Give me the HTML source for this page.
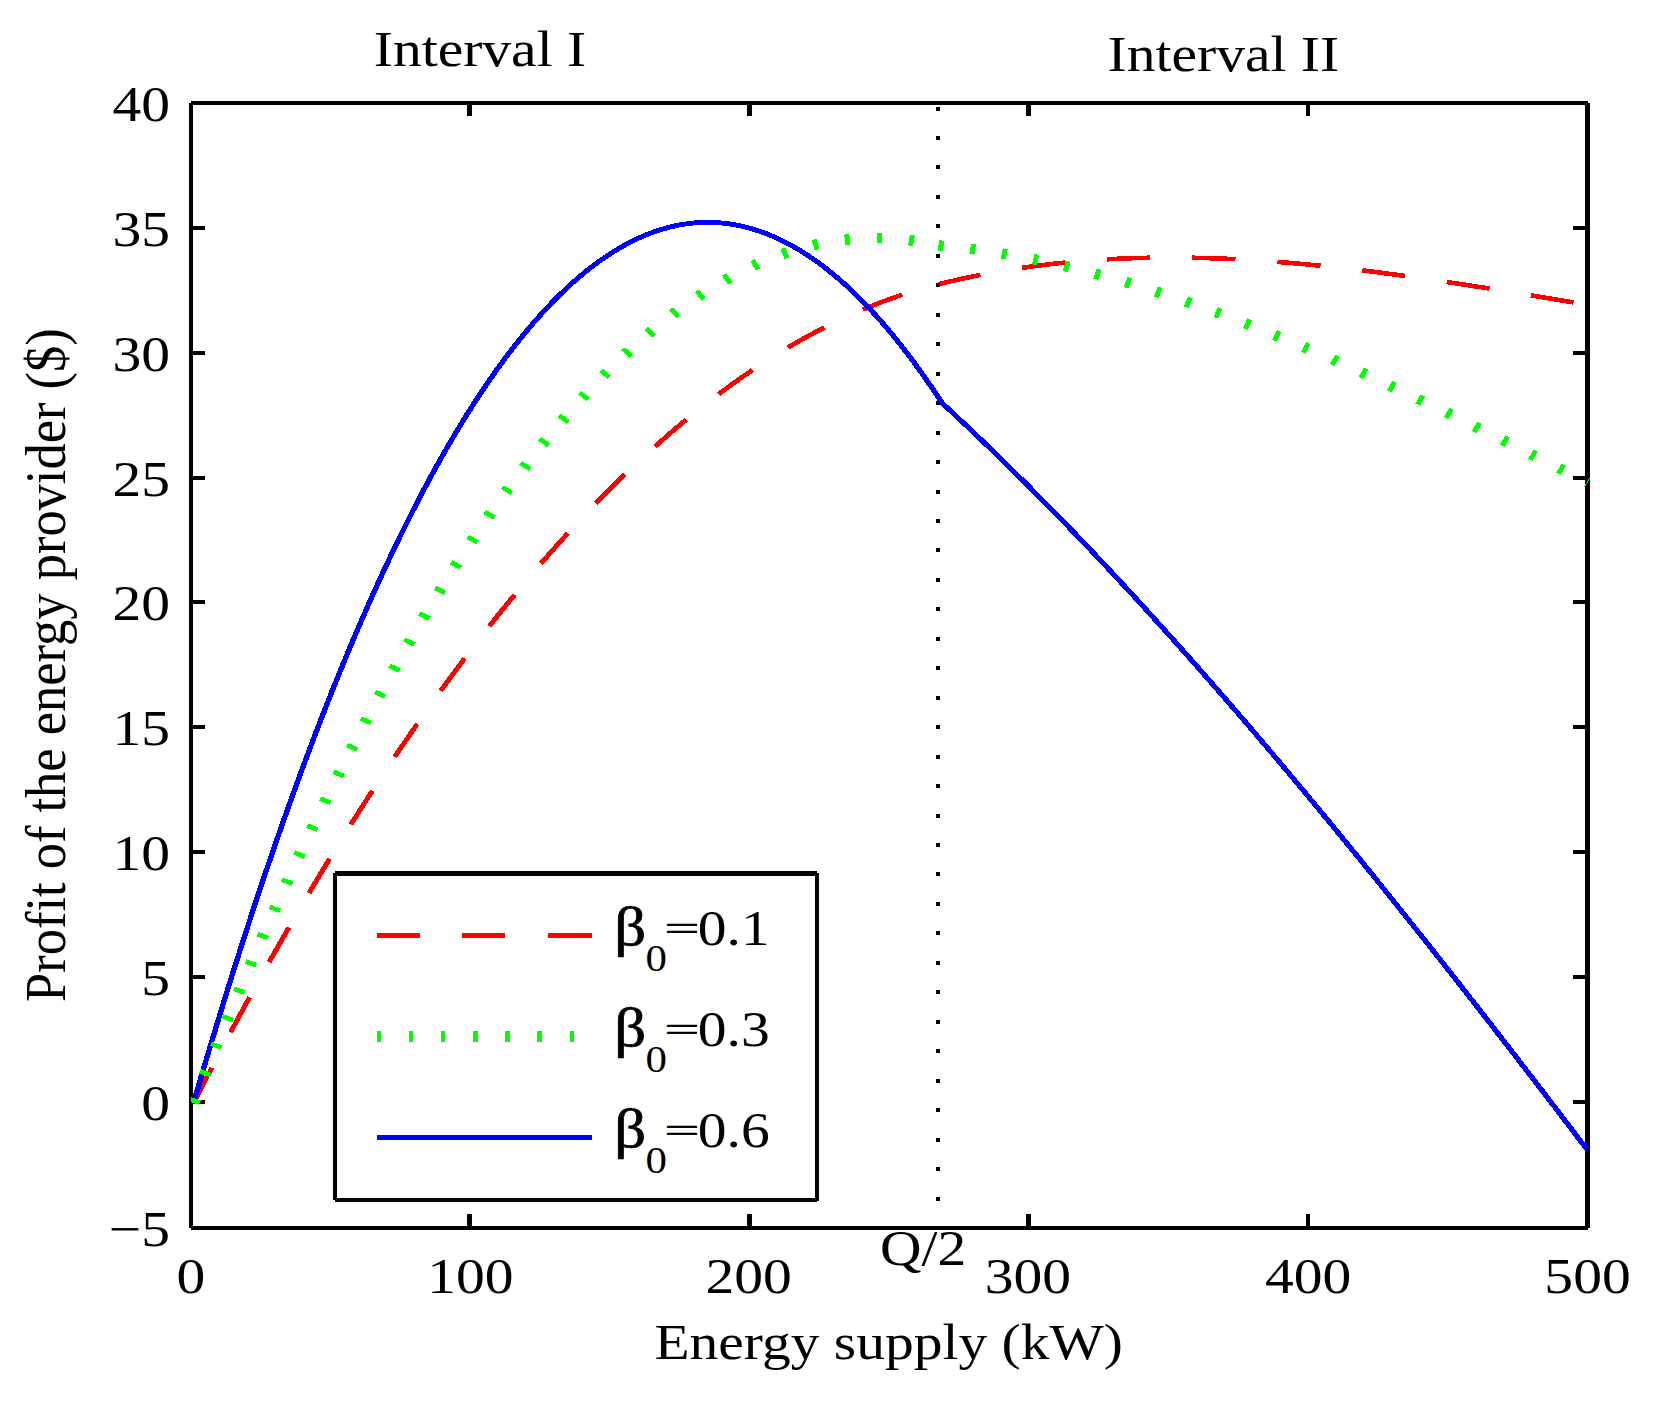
<!DOCTYPE html>
<html lang="en">
<head>
<meta charset="utf-8">
<title>Profit of the energy provider vs energy supply</title>
<style>
html,body{margin:0;padding:0;background:#fff;}
body{width:1676px;height:1406px;overflow:hidden;}
svg{display:block;}
text{font-family:"Liberation Serif", "DejaVu Serif", serif;fill:#000;}
</style>
</head>
<body>
<svg width="1676" height="1406" viewBox="0 0 1676 1406">
<rect x="0" y="0" width="1676" height="1406" fill="#ffffff"/>
<g id="axes">
<rect x="189.00" y="103.00" width="4.00" height="1125.00" fill="#000" shape-rendering="crispEdges"/>
<rect x="1585.00" y="103.00" width="5.00" height="1125.00" fill="#000" shape-rendering="crispEdges"/>
<rect x="191.00" y="101.00" width="1397.00" height="4.00" fill="#000" shape-rendering="crispEdges"/>
<rect x="191.00" y="1226.00" width="1397.00" height="4.00" fill="#000" shape-rendering="crispEdges"/>
<rect x="467.00" y="103.00" width="5.00" height="13.00" fill="#000" shape-rendering="crispEdges"/>
<rect x="467.00" y="1214.00" width="5.00" height="14.00" fill="#000" shape-rendering="crispEdges"/>
<rect x="747.00" y="103.00" width="5.00" height="13.00" fill="#000" shape-rendering="crispEdges"/>
<rect x="747.00" y="1214.00" width="5.00" height="14.00" fill="#000" shape-rendering="crispEdges"/>
<rect x="1026.00" y="103.00" width="5.00" height="13.00" fill="#000" shape-rendering="crispEdges"/>
<rect x="1026.00" y="1214.00" width="5.00" height="14.00" fill="#000" shape-rendering="crispEdges"/>
<rect x="1306.00" y="103.00" width="4.00" height="13.00" fill="#000" shape-rendering="crispEdges"/>
<rect x="1306.00" y="1214.00" width="4.00" height="14.00" fill="#000" shape-rendering="crispEdges"/>
<rect x="191.00" y="1100.00" width="14.00" height="4.00" fill="#000" shape-rendering="crispEdges"/>
<rect x="1573.00" y="1100.00" width="14.00" height="4.00" fill="#000" shape-rendering="crispEdges"/>
<rect x="191.00" y="975.00" width="14.00" height="4.00" fill="#000" shape-rendering="crispEdges"/>
<rect x="1573.00" y="975.00" width="14.00" height="4.00" fill="#000" shape-rendering="crispEdges"/>
<rect x="191.00" y="850.00" width="14.00" height="4.00" fill="#000" shape-rendering="crispEdges"/>
<rect x="1573.00" y="850.00" width="14.00" height="4.00" fill="#000" shape-rendering="crispEdges"/>
<rect x="191.00" y="725.00" width="14.00" height="4.00" fill="#000" shape-rendering="crispEdges"/>
<rect x="1573.00" y="725.00" width="14.00" height="4.00" fill="#000" shape-rendering="crispEdges"/>
<rect x="191.00" y="600.00" width="14.00" height="4.00" fill="#000" shape-rendering="crispEdges"/>
<rect x="1573.00" y="600.00" width="14.00" height="4.00" fill="#000" shape-rendering="crispEdges"/>
<rect x="191.00" y="476.00" width="14.00" height="4.00" fill="#000" shape-rendering="crispEdges"/>
<rect x="1573.00" y="476.00" width="14.00" height="4.00" fill="#000" shape-rendering="crispEdges"/>
<rect x="191.00" y="351.00" width="14.00" height="4.00" fill="#000" shape-rendering="crispEdges"/>
<rect x="1573.00" y="351.00" width="14.00" height="4.00" fill="#000" shape-rendering="crispEdges"/>
<rect x="191.00" y="226.00" width="14.00" height="4.00" fill="#000" shape-rendering="crispEdges"/>
<rect x="1573.00" y="226.00" width="14.00" height="4.00" fill="#000" shape-rendering="crispEdges"/>
</g>
<defs><clipPath id="plotclip"><rect x="190.8" y="101" width="1399.2" height="1129"/></clipPath></defs>
<g id="plot-area" clip-path="url(#plotclip)">
<g id="curve-red" transform="scale(1.095,1)" fill="none" stroke-linejoin="round" shape-rendering="crispEdges">
<path d="M176.72 1103.00 L181.62 1092.59 L186.51 1082.24 L191.41 1071.96 L196.30 1061.74 L201.20 1051.59 L206.09 1041.50 L210.99 1031.48 L215.88 1021.52 L220.77 1011.64 L225.67 1001.81 L230.56 992.05 L235.46 982.36 L240.35 972.73 L245.25 963.17 L250.14 953.68 L255.03 944.25 L259.93 934.88 L264.82 925.58 L269.72 916.35 L274.61 907.18 L279.51 898.08 L284.40 889.04 L289.29 880.07 L294.19 871.16 L299.08 862.32 L303.98 853.55 L308.87 844.84 L313.77 836.19 L318.66 827.62 L323.56 819.10 L328.45 810.66 L333.34 802.27 L338.24 793.96 L343.13 785.71 L348.03 777.52 L352.92 769.40 L357.82 761.35 L362.71 753.36 L367.60 745.44 L372.50 737.58 L377.39 729.79 L382.29 722.06 L387.18 714.40 L392.08 706.81 L396.97 699.28 L401.87 691.82 L406.76 684.42 L411.65 677.09 L416.55 669.82 L421.44 662.62 L426.34 655.48 L431.23 648.41 L436.13 641.41 L441.02 634.47 L445.91 627.59 L450.81 620.78 L455.70 614.04 L460.60 607.37 L465.49 600.75 L470.39 594.21 L475.28 587.73 L480.17 581.31 L485.07 574.96 L489.96 568.68 L494.86 562.46 L499.75 556.31 L504.65 550.22 L509.54 544.20 L514.44 538.25 L519.33 532.36 L524.22 526.53 L529.12 520.77 L534.01 515.08 L538.91 509.45 L543.80 503.89 L548.70 498.39 L553.59 492.96 L558.48 487.59 L563.38 482.29 L568.27 477.06 L573.17 471.89 L578.06 466.79 L582.96 461.75 L587.85 456.78 L592.74 451.87 L597.64 447.03 L602.53 442.25 L607.43 437.54 L612.32 432.90 L617.22 428.32 L622.11 423.80 L627.01 419.36 L631.90 414.97 L636.79 410.66 L641.69 406.41 L646.58 402.22 L651.48 398.10 L656.37 394.04 L661.27 390.06 L666.16 386.13 L671.05 382.27 L675.95 378.48 L680.84 374.76 L685.74 371.09 L690.63 367.50 L695.53 363.97 L700.42 360.50 L705.31 357.10 L710.21 353.77 L715.10 350.50 L720.00 347.30 L724.89 344.16 L729.79 341.09 L734.68 338.09 L739.58 335.15 L744.47 332.27 L749.36 329.46 L754.26 326.72 L759.15 324.04 L764.05 321.43 L768.94 318.88 L773.84 316.40 L778.73 313.99 L783.62 311.64 L788.52 309.35 L793.41 307.13 L798.31 304.98 L803.20 302.89 L808.10 300.87 L812.99 298.91 L817.88 297.02 L822.78 295.20 L827.67 293.44 L832.57 291.74 L837.46 290.11 L842.36 288.55 L847.25 287.05 L852.15 285.62 L857.04 284.25" stroke="#ff0000" stroke-width="4.6" stroke-dasharray="39 39.4"/>
<path d="M857.04 284.25 L861.30 283.11 L865.57 281.99 L869.83 280.90 L874.10 279.83 L878.36 278.80 L882.63 277.79 L886.89 276.81 L891.15 275.86 L895.42 274.94 L899.68 274.04 L903.95 273.16 L908.21 272.32 L912.48 271.50 L916.74 270.70 L921.00 269.94 L925.27 269.19 L929.53 268.48 L933.80 267.78 L938.06 267.11 L942.32 266.47 L946.59 265.85 L950.85 265.26 L955.12 264.69 L959.38 264.14 L963.65 263.62 L967.91 263.12 L972.17 262.64 L976.44 262.19 L980.70 261.75 L984.97 261.35 L989.23 260.96 L993.50 260.59 L997.76 260.25 L1002.02 259.93 L1006.29 259.63 L1010.55 259.35 L1014.82 259.10 L1019.08 258.86 L1023.35 258.64 L1027.61 258.45 L1031.87 258.27 L1036.14 258.12 L1040.40 257.98 L1044.67 257.86 L1048.93 257.77 L1053.20 257.69 L1057.46 257.63 L1061.72 257.59 L1065.99 257.57 L1070.25 257.57 L1074.52 257.58 L1078.78 257.61 L1083.05 257.66 L1087.31 257.73 L1091.57 257.81 L1095.84 257.92 L1100.10 258.03 L1104.37 258.17 L1108.63 258.32 L1112.90 258.49 L1117.16 258.67 L1121.42 258.87 L1125.69 259.08 L1129.95 259.31 L1134.22 259.56 L1138.48 259.82 L1142.75 260.09 L1147.01 260.38 L1151.27 260.69 L1155.54 261.00 L1159.80 261.33 L1164.07 261.68 L1168.33 262.04 L1172.59 262.41 L1176.86 262.79 L1181.12 263.19 L1185.39 263.60 L1189.65 264.02 L1193.92 264.46 L1198.18 264.90 L1202.44 265.36 L1206.71 265.83 L1210.97 266.31 L1215.24 266.80 L1219.50 267.30 L1223.77 267.82 L1228.03 268.34 L1232.29 268.87 L1236.56 269.42 L1240.82 269.97 L1245.09 270.53 L1249.35 271.10 L1253.62 271.69 L1257.88 272.28 L1262.14 272.88 L1266.41 273.48 L1270.67 274.10 L1274.94 274.72 L1279.20 275.36 L1283.47 276.00 L1287.73 276.64 L1291.99 277.30 L1296.26 277.96 L1300.52 278.63 L1304.79 279.30 L1309.05 279.98 L1313.32 280.67 L1317.58 281.37 L1321.84 282.06 L1326.11 282.77 L1330.37 283.48 L1334.64 284.20 L1338.90 284.92 L1343.17 285.64 L1347.43 286.37 L1351.69 287.10 L1355.96 287.84 L1360.22 288.58 L1364.49 289.33 L1368.75 290.08 L1373.02 290.83 L1377.28 291.59 L1381.54 292.35 L1385.81 293.11 L1390.07 293.87 L1394.34 294.63 L1398.60 295.40 L1402.86 296.17 L1407.13 296.94 L1411.39 297.71 L1415.66 298.49 L1419.92 299.26 L1424.19 300.04 L1428.45 300.81 L1432.71 301.59 L1436.98 302.36 L1441.24 303.14 L1445.51 303.91 L1449.77 304.69" stroke="#ff0000" stroke-width="4.6" stroke-dasharray="39.6 38.4"/>
</g>
<g id="curve-blue" transform="scale(1.095,1)" fill="none" stroke-linejoin="round" shape-rendering="crispEdges">
<path d="M176.72 1103.00 L181.64 1084.57 L186.56 1066.34 L191.48 1048.31 L196.40 1030.47 L201.31 1012.83 L206.23 995.38 L211.15 978.13 L216.07 961.08 L220.99 944.22 L225.90 927.56 L230.82 911.10 L235.74 894.83 L240.66 878.76 L245.57 862.88 L250.49 847.20 L255.41 831.71 L260.33 816.42 L265.25 801.33 L270.16 786.43 L275.08 771.72 L280.00 757.22 L284.92 742.90 L289.84 728.79 L294.75 714.86 L299.67 701.14 L304.59 687.60 L309.51 674.27 L314.43 661.13 L319.34 648.18 L324.26 635.43 L329.18 622.87 L334.10 610.51 L339.01 598.35 L343.93 586.37 L348.85 574.60 L353.77 563.01 L358.69 551.63 L363.60 540.43 L368.52 529.43 L373.44 518.63 L378.36 508.02 L383.28 497.60 L388.19 487.38 L393.11 477.36 L398.03 467.52 L402.95 457.89 L407.86 448.44 L412.78 439.19 L417.70 430.13 L422.62 421.27 L427.54 412.60 L432.45 404.13 L437.37 395.85 L442.29 387.76 L447.21 379.87 L452.13 372.17 L457.04 364.66 L461.96 357.35 L466.88 350.23 L471.80 343.30 L476.71 336.57 L481.63 330.03 L486.55 323.69 L491.47 317.53 L496.39 311.57 L501.30 305.81 L506.22 300.24 L511.14 294.86 L516.06 289.67 L520.98 284.67 L525.89 279.87 L530.81 275.26 L535.73 270.85 L540.65 266.63 L545.56 262.60 L550.48 258.76 L555.40 255.11 L560.32 251.66 L565.24 248.40 L570.15 245.33 L575.07 242.46 L579.99 239.77 L584.91 237.28 L589.83 234.98 L594.74 232.88 L599.66 230.96 L604.58 229.24 L609.50 227.71 L614.42 226.37 L619.33 225.22 L624.25 224.27 L629.17 223.50 L634.09 222.93 L639.00 222.55 L643.92 222.36 L648.84 222.37 L653.76 222.56 L658.68 222.95 L663.59 223.53 L668.51 224.30 L673.43 225.26 L678.35 226.41 L683.27 227.75 L688.18 229.29 L693.10 231.01 L698.02 232.93 L702.94 235.03 L707.85 237.33 L712.77 239.82 L717.69 242.50 L722.61 245.37 L727.53 248.43 L732.44 251.69 L737.36 255.13 L742.28 258.76 L747.20 262.59 L752.12 266.60 L757.03 270.80 L761.95 275.20 L766.87 279.79 L771.79 284.56 L776.70 289.53 L781.62 294.68 L786.54 300.03 L791.46 305.57 L796.38 311.29 L801.29 317.21 L806.21 323.31 L811.13 329.61 L816.05 336.10 L820.97 342.77 L825.88 349.64 L830.80 356.69 L835.72 363.94 L840.64 371.37 L845.55 378.99 L850.47 386.81 L855.39 394.81 L860.31 403.00 L864.55 407.29 L868.79 411.59 L873.03 415.92 L877.27 420.26 L881.51 424.63 L885.75 429.02 L889.99 433.43 L894.23 437.85 L898.48 442.30 L902.72 446.77 L906.96 451.26 L911.20 455.77 L915.44 460.30 L919.68 464.85 L923.92 469.42 L928.16 474.00 L932.40 478.61 L936.64 483.24 L940.88 487.88 L945.12 492.55 L949.36 497.23 L953.60 501.93 L957.85 506.65 L962.09 511.39 L966.33 516.15 L970.57 520.93 L974.81 525.72 L979.05 530.53 L983.29 535.36 L987.53 540.21 L991.77 545.08 L996.01 549.96 L1000.25 554.86 L1004.49 559.78 L1008.73 564.71 L1012.98 569.67 L1017.22 574.64 L1021.46 579.62 L1025.70 584.63 L1029.94 589.65 L1034.18 594.68 L1038.42 599.74 L1042.66 604.80 L1046.90 609.89 L1051.14 614.99 L1055.38 620.11 L1059.62 625.24 L1063.86 630.39 L1068.10 635.56 L1072.35 640.74 L1076.59 645.93 L1080.83 651.15 L1085.07 656.37 L1089.31 661.61 L1093.55 666.87 L1097.79 672.14 L1102.03 677.43 L1106.27 682.73 L1110.51 688.04 L1114.75 693.37 L1118.99 698.72 L1123.23 704.08 L1127.48 709.45 L1131.72 714.83 L1135.96 720.23 L1140.20 725.65 L1144.44 731.07 L1148.68 736.51 L1152.92 741.97 L1157.16 747.44 L1161.40 752.92 L1165.64 758.41 L1169.88 763.92 L1174.12 769.43 L1178.36 774.97 L1182.60 780.51 L1186.85 786.07 L1191.09 791.64 L1195.33 797.22 L1199.57 802.81 L1203.81 808.42 L1208.05 814.03 L1212.29 819.66 L1216.53 825.30 L1220.77 830.95 L1225.01 836.62 L1229.25 842.29 L1233.49 847.98 L1237.73 853.67 L1241.98 859.38 L1246.22 865.10 L1250.46 870.83 L1254.70 876.57 L1258.94 882.32 L1263.18 888.08 L1267.42 893.85 L1271.66 899.63 L1275.90 905.42 L1280.14 911.22 L1284.38 917.03 L1288.62 922.85 L1292.86 928.68 L1297.10 934.52 L1301.35 940.37 L1305.59 946.23 L1309.83 952.10 L1314.07 957.97 L1318.31 963.86 L1322.55 969.75 L1326.79 975.65 L1331.03 981.56 L1335.27 987.48 L1339.51 993.41 L1343.75 999.34 L1347.99 1005.29 L1352.23 1011.24 L1356.48 1017.20 L1360.72 1023.16 L1364.96 1029.14 L1369.20 1035.12 L1373.44 1041.11 L1377.68 1047.11 L1381.92 1053.11 L1386.16 1059.12 L1390.40 1065.14 L1394.64 1071.16 L1398.88 1077.19 L1403.12 1083.23 L1407.36 1089.28 L1411.61 1095.33 L1415.85 1101.38 L1420.09 1107.45 L1424.33 1113.51 L1428.57 1119.59 L1432.81 1125.67 L1437.05 1131.76 L1441.29 1137.85 L1445.53 1143.94 L1449.77 1150.05" stroke="#0000ff" stroke-width="4.9"/>
</g>
<g id="curve-green" transform="scale(1.095,1)" fill="none" stroke-linejoin="round" shape-rendering="crispEdges">
<path d="M176.72 1103.00 L181.62 1089.45 L186.51 1076.01 L191.41 1062.68 L196.30 1049.45 L201.20 1036.33 L206.09 1023.32 L210.99 1010.41 L215.88 997.61 L220.77 984.92 L225.67 972.34 L230.56 959.86 L235.46 947.49 L240.35 935.22 L245.25 923.07 L250.14 911.02 L255.03 899.07 L259.93 887.24 L264.82 875.51 L269.72 863.88 L274.61 852.37 L279.51 840.96 L284.40 829.66 L289.29 818.46 L294.19 807.37 L299.08 796.39 L303.98 785.52 L308.87 774.75 L313.77 764.09 L318.66 753.54 L323.56 743.09 L328.45 732.75 L333.34 722.52 L338.24 712.39 L343.13 702.38 L348.03 692.46 L352.92 682.66 L357.82 672.96 L362.71 663.37 L367.60 653.89 L372.50 644.51 L377.39 635.24 L382.29 626.08 L387.18 617.02 L392.08 608.07 L396.97 599.23 L401.87 590.49 L406.76 581.86 L411.65 573.34 L416.55 564.93 L421.44 556.62 L426.34 548.42 L431.23 540.33 L436.13 532.34 L441.02 524.46 L445.91 516.69 L450.81 509.02 L455.70 501.46 L460.60 494.01 L465.49 486.66 L470.39 479.42 L475.28 472.29 L480.17 465.27 L485.07 458.35 L489.96 451.54 L494.86 444.84 L499.75 438.24 L504.65 431.75 L509.54 425.37 L514.44 419.09 L519.33 412.92 L524.22 406.86 L529.12 400.90 L534.01 395.06 L538.91 389.31 L543.80 383.68 L548.70 378.15 L553.59 372.73 L558.48 367.42 L563.38 362.21 L568.27 357.11 L573.17 352.12 L578.06 347.23 L582.96 342.45 L587.85 337.78 L592.74 333.22 L597.64 328.76 L602.53 324.41 L607.43 320.16 L612.32 316.03 L617.22 312.00 L622.11 308.07 L627.01 304.26 L631.90 300.55 L636.79 296.94 L641.69 293.45 L646.58 290.06 L651.48 286.78 L656.37 283.60 L661.27 280.53 L666.16 277.57 L671.05 274.72 L675.95 271.97 L680.84 269.33 L685.74 266.80 L690.63 264.37 L695.53 262.05 L700.42 259.84 L705.31 257.73 L710.21 255.73 L715.10 253.84 L720.00 252.06 L724.89 250.38 L729.79 248.81 L734.68 247.34 L739.58 245.99 L744.47 244.74 L749.36 243.59 L754.26 242.56 L759.15 241.63 L764.05 240.81 L768.94 240.09 L773.84 239.48 L778.73 238.98 L783.62 238.59 L788.52 238.30 L793.41 238.12 L798.31 238.04 L803.20 238.08 L808.10 238.22 L812.99 238.46 L817.88 238.82 L822.78 239.28 L827.67 239.85 L832.57 240.52 L837.46 241.30 L842.36 242.19 L847.25 243.19 L852.15 244.29 L857.04 245.50" stroke="#00ff00" stroke-width="10.5" stroke-dasharray="4.6 24.78"/>
<path d="M857.04 245.50 L861.30 245.91 L865.57 246.36 L869.83 246.83 L874.10 247.33 L878.36 247.86 L882.63 248.41 L886.89 248.99 L891.15 249.60 L895.42 250.24 L899.68 250.90 L903.95 251.59 L908.21 252.30 L912.48 253.04 L916.74 253.80 L921.00 254.60 L925.27 255.41 L929.53 256.25 L933.80 257.12 L938.06 258.01 L942.32 258.92 L946.59 259.86 L950.85 260.82 L955.12 261.81 L959.38 262.82 L963.65 263.85 L967.91 264.91 L972.17 265.99 L976.44 267.09 L980.70 268.21 L984.97 269.36 L989.23 270.53 L993.50 271.72 L997.76 272.93 L1002.02 274.17 L1006.29 275.42 L1010.55 276.70 L1014.82 278.00 L1019.08 279.31 L1023.35 280.65 L1027.61 282.01 L1031.87 283.39 L1036.14 284.79 L1040.40 286.21 L1044.67 287.64 L1048.93 289.10 L1053.20 290.58 L1057.46 292.07 L1061.72 293.59 L1065.99 295.12 L1070.25 296.67 L1074.52 298.23 L1078.78 299.82 L1083.05 301.42 L1087.31 303.04 L1091.57 304.68 L1095.84 306.34 L1100.10 308.01 L1104.37 309.70 L1108.63 311.40 L1112.90 313.12 L1117.16 314.86 L1121.42 316.61 L1125.69 318.38 L1129.95 320.16 L1134.22 321.96 L1138.48 323.77 L1142.75 325.60 L1147.01 327.44 L1151.27 329.30 L1155.54 331.17 L1159.80 333.06 L1164.07 334.96 L1168.33 336.87 L1172.59 338.79 L1176.86 340.73 L1181.12 342.68 L1185.39 344.65 L1189.65 346.62 L1193.92 348.61 L1198.18 350.61 L1202.44 352.62 L1206.71 354.65 L1210.97 356.68 L1215.24 358.73 L1219.50 360.79 L1223.77 362.86 L1228.03 364.94 L1232.29 367.03 L1236.56 369.13 L1240.82 371.23 L1245.09 373.35 L1249.35 375.48 L1253.62 377.62 L1257.88 379.77 L1262.14 381.93 L1266.41 384.09 L1270.67 386.27 L1274.94 388.45 L1279.20 390.64 L1283.47 392.84 L1287.73 395.04 L1291.99 397.26 L1296.26 399.48 L1300.52 401.71 L1304.79 403.94 L1309.05 406.18 L1313.32 408.43 L1317.58 410.68 L1321.84 412.94 L1326.11 415.21 L1330.37 417.48 L1334.64 419.76 L1338.90 422.04 L1343.17 424.33 L1347.43 426.62 L1351.69 428.92 L1355.96 431.22 L1360.22 433.53 L1364.49 435.84 L1368.75 438.15 L1373.02 440.47 L1377.28 442.79 L1381.54 445.12 L1385.81 447.44 L1390.07 449.77 L1394.34 452.11 L1398.60 454.44 L1402.86 456.78 L1407.13 459.12 L1411.39 461.46 L1415.66 463.80 L1419.92 466.14 L1424.19 468.49 L1428.45 470.84 L1432.71 473.18 L1436.98 475.53 L1441.24 477.88 L1445.51 480.22 L1449.77 482.57" stroke="#00ff00" stroke-width="10.5" stroke-dasharray="4.6 24.59"/>
</g>
</g>
<line x1="938" y1="1230" x2="938" y2="103" stroke="#000" stroke-width="4" stroke-dasharray="4 25.46" shape-rendering="crispEdges"/>
<g id="legend">
<rect x="335.00" y="873.00" width="482.00" height="327.00" fill="#fff" shape-rendering="crispEdges"/>
<rect x="335.00" y="871.00" width="482.00" height="5.00" fill="#000" shape-rendering="crispEdges"/>
<rect x="335.00" y="1198.00" width="482.00" height="4.00" fill="#000" shape-rendering="crispEdges"/>
<rect x="333.00" y="873.00" width="4.00" height="327.00" fill="#000" shape-rendering="crispEdges"/>
<rect x="815.00" y="873.00" width="4.00" height="328.00" fill="#000" shape-rendering="crispEdges"/>
<rect x="377.00" y="933.00" width="43.00" height="5.00" fill="#ff0000" shape-rendering="crispEdges"/>
<rect x="462.00" y="933.00" width="43.00" height="5.00" fill="#ff0000" shape-rendering="crispEdges"/>
<rect x="548.00" y="933.00" width="44.00" height="5.00" fill="#ff0000" shape-rendering="crispEdges"/>
<rect x="377.00" y="1031.00" width="4.00" height="11.00" fill="#00ff00" shape-rendering="crispEdges"/>
<rect x="409.00" y="1031.00" width="4.00" height="11.00" fill="#00ff00" shape-rendering="crispEdges"/>
<rect x="441.00" y="1031.00" width="4.00" height="11.00" fill="#00ff00" shape-rendering="crispEdges"/>
<rect x="473.00" y="1031.00" width="5.00" height="11.00" fill="#00ff00" shape-rendering="crispEdges"/>
<rect x="505.00" y="1031.00" width="5.00" height="11.00" fill="#00ff00" shape-rendering="crispEdges"/>
<rect x="537.00" y="1031.00" width="5.00" height="11.00" fill="#00ff00" shape-rendering="crispEdges"/>
<rect x="570.00" y="1031.00" width="4.00" height="11.00" fill="#00ff00" shape-rendering="crispEdges"/>
<rect x="377.00" y="1135.00" width="215.00" height="5.00" fill="#0000ff" shape-rendering="crispEdges"/>
</g>
<g id="labels">
<text transform="translate(373.80,66.00) scale(1.1,0.963)" font-size="52.3" text-anchor="start">Interval I</text>
<text transform="translate(1107.60,71.00) scale(1.1,0.963)" font-size="52.3" text-anchor="start">Interval II</text>
<text transform="translate(170.00,1245.90) scale(1.1,0.963)" font-size="52.3" text-anchor="end">−5</text>
<text transform="translate(170.00,1119.90) scale(1.1,0.963)" font-size="52.3" text-anchor="end">0</text>
<text transform="translate(170.00,995.02) scale(1.1,0.963)" font-size="52.3" text-anchor="end">5</text>
<text transform="translate(170.00,870.15) scale(1.1,0.963)" font-size="52.3" text-anchor="end">10</text>
<text transform="translate(170.00,745.27) scale(1.1,0.963)" font-size="52.3" text-anchor="end">15</text>
<text transform="translate(170.00,620.40) scale(1.1,0.963)" font-size="52.3" text-anchor="end">20</text>
<text transform="translate(170.00,495.52) scale(1.1,0.963)" font-size="52.3" text-anchor="end">25</text>
<text transform="translate(170.00,370.65) scale(1.1,0.963)" font-size="52.3" text-anchor="end">30</text>
<text transform="translate(170.00,245.78) scale(1.1,0.963)" font-size="52.3" text-anchor="end">35</text>
<text transform="translate(170.00,120.90) scale(1.1,0.963)" font-size="52.3" text-anchor="end">40</text>
<text transform="translate(191.00,1292.80) scale(1.1,0.963)" font-size="52.3" text-anchor="middle">0</text>
<text transform="translate(470.30,1292.80) scale(1.1,0.963)" font-size="52.3" text-anchor="middle">100</text>
<text transform="translate(748.60,1292.80) scale(1.1,0.963)" font-size="52.3" text-anchor="middle">200</text>
<text transform="translate(1027.90,1292.80) scale(1.1,0.963)" font-size="52.3" text-anchor="middle">300</text>
<text transform="translate(1308.20,1292.80) scale(1.1,0.963)" font-size="52.3" text-anchor="middle">400</text>
<text transform="translate(1587.50,1292.80) scale(1.1,0.963)" font-size="52.3" text-anchor="middle">500</text>
<text transform="translate(880.00,1264.70) scale(1.1,0.963)" font-size="52.3" text-anchor="start">Q/2</text>
<text transform="translate(888.70,1358.90) scale(1.1,0.963)" font-size="52.3" text-anchor="middle">Energy supply (kW)</text>
<text transform="translate(65.00,1001.90) scale(1.1,1.0035) rotate(-90)" font-size="52.3" text-anchor="start">Profit of the energy provider ($)</text>
<text transform="translate(614.30,945.20) scale(1.2,1.04)" font-size="52.3" text-anchor="start" stroke="#000" stroke-width="0.7">β</text>
<text transform="translate(645.60,970.50) scale(1.1,0.963)" font-size="39" text-anchor="start">0</text>
<text transform="translate(664.60,939.60) scale(1.18,0.645)" font-size="52.3" text-anchor="start" stroke="#000" stroke-width="1.1">=</text>
<text transform="translate(697.80,945.00) scale(1.1,0.963)" font-size="52.3" text-anchor="start">0.1</text>
<text transform="translate(614.30,1046.20) scale(1.2,1.04)" font-size="52.3" text-anchor="start" stroke="#000" stroke-width="0.7">β</text>
<text transform="translate(645.60,1071.50) scale(1.1,0.963)" font-size="39" text-anchor="start">0</text>
<text transform="translate(664.60,1040.60) scale(1.18,0.645)" font-size="52.3" text-anchor="start" stroke="#000" stroke-width="1.1">=</text>
<text transform="translate(697.80,1046.00) scale(1.1,0.963)" font-size="52.3" text-anchor="start">0.3</text>
<text transform="translate(614.30,1147.20) scale(1.2,1.04)" font-size="52.3" text-anchor="start" stroke="#000" stroke-width="0.7">β</text>
<text transform="translate(645.60,1172.50) scale(1.1,0.963)" font-size="39" text-anchor="start">0</text>
<text transform="translate(664.60,1141.60) scale(1.18,0.645)" font-size="52.3" text-anchor="start" stroke="#000" stroke-width="1.1">=</text>
<text transform="translate(697.80,1147.00) scale(1.1,0.963)" font-size="52.3" text-anchor="start">0.6</text>
</g>
</svg>
</body>
</html>
